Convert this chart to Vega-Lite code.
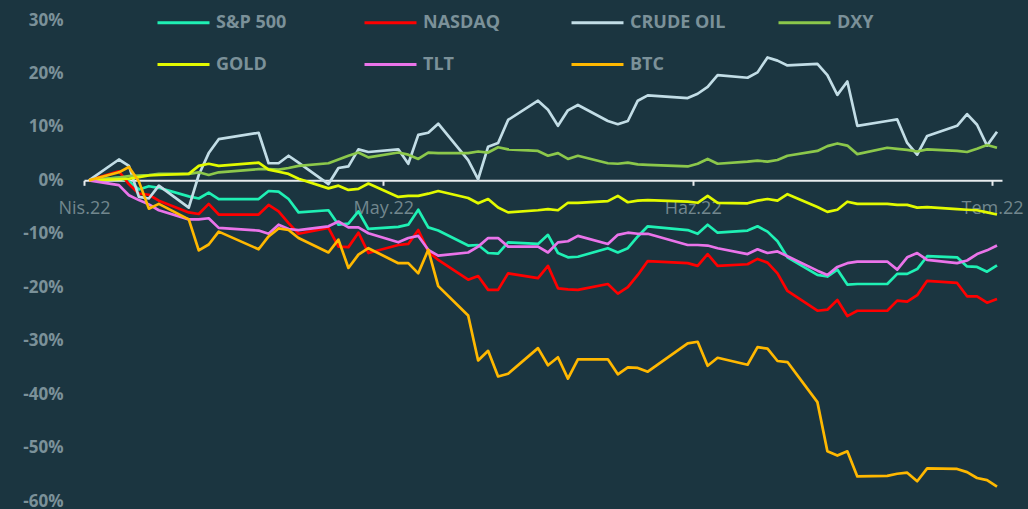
{
  "$schema": "https://vega.github.io/schema/vega-lite/v6.json",
  "width": 918,
  "height": 481,
  "autosize": {"type": "none"},
  "padding": {"left": 84, "top": 20, "right": 26, "bottom": 8},
  "background": "#1b3540",
  "config": {"view": {"stroke": null}, "font": "Open Sans"},
  "data": {"values": [
    {"date":"2022-04-01T12:00:00Z","S&P 500":0,"NASDAQ":0,"CRUDE OIL":0,"DXY":0,"GOLD":0,"TLT":0,"BTC":0},
    {"date":"2022-04-04T12:00:00Z","S&P 500":0.5,"NASDAQ":1.7,"CRUDE OIL":3.9,"DXY":0.5,"GOLD":0.2,"TLT":-0.9,"BTC":1.5},
    {"date":"2022-04-05T12:00:00Z","S&P 500":-0.2,"NASDAQ":-0.7,"CRUDE OIL":2.7,"DXY":0.8,"GOLD":0.3,"TLT":-2.8,"BTC":2.5},
    {"date":"2022-04-06T12:00:00Z","S&P 500":-1.7,"NASDAQ":-2.5,"CRUDE OIL":-3.1,"DXY":0.9,"GOLD":0.6,"TLT":-3.7,"BTC":-0.2},
    {"date":"2022-04-07T12:00:00Z","S&P 500":-1.1,"NASDAQ":-2.7,"CRUDE OIL":-3.4,"DXY":1.0,"GOLD":0.9,"TLT":-4.5,"BTC":-5.3},
    {"date":"2022-04-08T12:00:00Z","S&P 500":-1.4,"NASDAQ":-3.8,"CRUDE OIL":-1.0,"DXY":1.2,"GOLD":1.0,"TLT":-5.6,"BTC":-4.4},
    {"date":"2022-04-11T12:00:00Z","S&P 500":-3.0,"NASDAQ":-6.0,"CRUDE OIL":-5.1,"DXY":1.2,"GOLD":1.2,"TLT":-7.3,"BTC":-7.3},
    {"date":"2022-04-12T12:00:00Z","S&P 500":-3.4,"NASDAQ":-6.3,"CRUDE OIL":1.0,"DXY":1.5,"GOLD":2.7,"TLT":-7.3,"BTC":-13.1},
    {"date":"2022-04-13T12:00:00Z","S&P 500":-2.3,"NASDAQ":-4.4,"CRUDE OIL":5.1,"DXY":1.0,"GOLD":3.1,"TLT":-7.1,"BTC":-12.0},
    {"date":"2022-04-14T12:00:00Z","S&P 500":-3.5,"NASDAQ":-6.4,"CRUDE OIL":7.7,"DXY":1.5,"GOLD":2.7,"TLT":-8.9,"BTC":-9.6},
    {"date":"2022-04-18T12:00:00Z","S&P 500":-3.5,"NASDAQ":-6.4,"CRUDE OIL":8.9,"DXY":2.1,"GOLD":3.3,"TLT":-9.4,"BTC":-12.9},
    {"date":"2022-04-19T12:00:00Z","S&P 500":-2.0,"NASDAQ":-4.6,"CRUDE OIL":3.2,"DXY":2.1,"GOLD":2.0,"TLT":-10.0,"BTC":-10.5},
    {"date":"2022-04-20T12:00:00Z","S&P 500":-2.1,"NASDAQ":-5.8,"CRUDE OIL":3.2,"DXY":2.0,"GOLD":1.6,"TLT":-8.3,"BTC":-9.0},
    {"date":"2022-04-21T12:00:00Z","S&P 500":-3.5,"NASDAQ":-8.0,"CRUDE OIL":4.6,"DXY":2.3,"GOLD":1.2,"TLT":-9.1,"BTC":-9.3},
    {"date":"2022-04-22T12:00:00Z","S&P 500":-6.0,"NASDAQ":-10.0,"CRUDE OIL":3.3,"DXY":2.7,"GOLD":0.3,"TLT":-9.3,"BTC":-10.8},
    {"date":"2022-04-25T12:00:00Z","S&P 500":-5.6,"NASDAQ":-8.9,"CRUDE OIL":-0.7,"DXY":3.2,"GOLD":-1.5,"TLT":-8.6,"BTC":-13.5},
    {"date":"2022-04-26T12:00:00Z","S&P 500":-8.3,"NASDAQ":-12.4,"CRUDE OIL":2.3,"DXY":3.9,"GOLD":-1.0,"TLT":-7.7,"BTC":-11.1},
    {"date":"2022-04-27T12:00:00Z","S&P 500":-8.1,"NASDAQ":-12.5,"CRUDE OIL":2.6,"DXY":4.6,"GOLD":-1.8,"TLT":-8.8,"BTC":-16.4},
    {"date":"2022-04-28T12:00:00Z","S&P 500":-5.8,"NASDAQ":-9.8,"CRUDE OIL":5.8,"DXY":5.2,"GOLD":-1.6,"TLT":-8.8,"BTC":-13.9},
    {"date":"2022-04-29T12:00:00Z","S&P 500":-9.1,"NASDAQ":-13.6,"CRUDE OIL":5.3,"DXY":4.3,"GOLD":-0.6,"TLT":-9.9,"BTC":-12.7},
    {"date":"2022-05-02T12:00:00Z","S&P 500":-8.7,"NASDAQ":-12.1,"CRUDE OIL":5.8,"DXY":5.2,"GOLD":-3.1,"TLT":-11.6,"BTC":-15.5},
    {"date":"2022-05-03T12:00:00Z","S&P 500":-8.3,"NASDAQ":-11.9,"CRUDE OIL":3.1,"DXY":4.8,"GOLD":-2.9,"TLT":-10.8,"BTC":-15.5},
    {"date":"2022-05-04T12:00:00Z","S&P 500":-5.5,"NASDAQ":-9.3,"CRUDE OIL":8.5,"DXY":4.0,"GOLD":-2.9,"TLT":-10.4,"BTC":-17.4},
    {"date":"2022-05-05T12:00:00Z","S&P 500":-8.8,"NASDAQ":-13.3,"CRUDE OIL":8.9,"DXY":5.2,"GOLD":-2.5,"TLT":-13.0,"BTC":-13.0},
    {"date":"2022-05-06T12:00:00Z","S&P 500":-9.4,"NASDAQ":-14.9,"CRUDE OIL":10.6,"DXY":5.1,"GOLD":-2.0,"TLT":-14.1,"BTC":-19.8},
    {"date":"2022-05-09T12:00:00Z","S&P 500":-12.2,"NASDAQ":-18.6,"CRUDE OIL":3.8,"DXY":5.1,"GOLD":-3.3,"TLT":-13.5,"BTC":-25.3},
    {"date":"2022-05-10T12:00:00Z","S&P 500":-12.1,"NASDAQ":-17.9,"CRUDE OIL":0.2,"DXY":5.4,"GOLD":-4.3,"TLT":-12.4,"BTC":-33.7},
    {"date":"2022-05-11T12:00:00Z","S&P 500":-13.6,"NASDAQ":-20.5,"CRUDE OIL":6.3,"DXY":5.2,"GOLD":-3.5,"TLT":-10.8,"BTC":-31.9},
    {"date":"2022-05-12T12:00:00Z","S&P 500":-13.7,"NASDAQ":-20.5,"CRUDE OIL":7.0,"DXY":6.2,"GOLD":-5.1,"TLT":-10.8,"BTC":-36.7},
    {"date":"2022-05-13T12:00:00Z","S&P 500":-11.6,"NASDAQ":-17.4,"CRUDE OIL":11.3,"DXY":5.8,"GOLD":-6.0,"TLT":-12.4,"BTC":-36.2},
    {"date":"2022-05-16T12:00:00Z","S&P 500":-11.9,"NASDAQ":-18.3,"CRUDE OIL":14.9,"DXY":5.5,"GOLD":-5.6,"TLT":-12.4,"BTC":-31.4},
    {"date":"2022-05-17T12:00:00Z","S&P 500":-10.2,"NASDAQ":-16.0,"CRUDE OIL":13.2,"DXY":4.6,"GOLD":-5.4,"TLT":-13.5,"BTC":-34.6},
    {"date":"2022-05-18T12:00:00Z","S&P 500":-13.6,"NASDAQ":-20.2,"CRUDE OIL":10.2,"DXY":5.1,"GOLD":-5.6,"TLT":-11.6,"BTC":-33.1},
    {"date":"2022-05-19T12:00:00Z","S&P 500":-14.4,"NASDAQ":-20.4,"CRUDE OIL":13.1,"DXY":4.0,"GOLD":-4.2,"TLT":-11.4,"BTC":-37.1},
    {"date":"2022-05-20T12:00:00Z","S&P 500":-14.3,"NASDAQ":-20.5,"CRUDE OIL":14.1,"DXY":4.6,"GOLD":-4.2,"TLT":-10.4,"BTC":-33.5},
    {"date":"2022-05-23T12:00:00Z","S&P 500":-12.7,"NASDAQ":-19.4,"CRUDE OIL":11.1,"DXY":3.2,"GOLD":-3.9,"TLT":-11.9,"BTC":-33.5},
    {"date":"2022-05-24T12:00:00Z","S&P 500":-13.5,"NASDAQ":-21.2,"CRUDE OIL":10.5,"DXY":3.1,"GOLD":-2.9,"TLT":-10.2,"BTC":-36.3},
    {"date":"2022-05-25T12:00:00Z","S&P 500":-12.7,"NASDAQ":-20.0,"CRUDE OIL":11.1,"DXY":3.3,"GOLD":-4.1,"TLT":-9.8,"BTC":-35.0},
    {"date":"2022-05-26T12:00:00Z","S&P 500":-10.5,"NASDAQ":-17.7,"CRUDE OIL":14.9,"DXY":3.0,"GOLD":-3.8,"TLT":-10.0,"BTC":-35.1},
    {"date":"2022-05-27T12:00:00Z","S&P 500":-8.6,"NASDAQ":-15.1,"CRUDE OIL":15.9,"DXY":2.9,"GOLD":-3.7,"TLT":-10.0,"BTC":-35.8},
    {"date":"2022-05-31T12:00:00Z","S&P 500":-9.3,"NASDAQ":-15.5,"CRUDE OIL":15.4,"DXY":2.6,"GOLD":-4.0,"TLT":-12.1,"BTC":-30.5},
    {"date":"2022-06-01T12:00:00Z","S&P 500":-10.0,"NASDAQ":-16.0,"CRUDE OIL":16.2,"DXY":3.1,"GOLD":-4.2,"TLT":-12.1,"BTC":-30.2},
    {"date":"2022-06-02T12:00:00Z","S&P 500":-8.3,"NASDAQ":-13.8,"CRUDE OIL":17.5,"DXY":4.0,"GOLD":-2.9,"TLT":-12.2,"BTC":-34.7},
    {"date":"2022-06-03T12:00:00Z","S&P 500":-9.8,"NASDAQ":-16.0,"CRUDE OIL":19.7,"DXY":3.1,"GOLD":-4.2,"TLT":-12.7,"BTC":-33.2},
    {"date":"2022-06-06T12:00:00Z","S&P 500":-9.4,"NASDAQ":-15.7,"CRUDE OIL":19.2,"DXY":3.5,"GOLD":-4.3,"TLT":-13.8,"BTC":-34.5},
    {"date":"2022-06-07T12:00:00Z","S&P 500":-8.6,"NASDAQ":-14.7,"CRUDE OIL":20.2,"DXY":3.7,"GOLD":-3.8,"TLT":-12.9,"BTC":-31.2},
    {"date":"2022-06-08T12:00:00Z","S&P 500":-9.6,"NASDAQ":-15.4,"CRUDE OIL":23.0,"DXY":3.5,"GOLD":-3.5,"TLT":-13.6,"BTC":-31.5},
    {"date":"2022-06-09T12:00:00Z","S&P 500":-11.4,"NASDAQ":-17.4,"CRUDE OIL":22.4,"DXY":3.8,"GOLD":-3.8,"TLT":-13.3,"BTC":-33.8},
    {"date":"2022-06-10T12:00:00Z","S&P 500":-14.4,"NASDAQ":-20.7,"CRUDE OIL":21.5,"DXY":4.6,"GOLD":-2.6,"TLT":-14.2,"BTC":-34.0},
    {"date":"2022-06-13T12:00:00Z","S&P 500":-17.7,"NASDAQ":-24.4,"CRUDE OIL":21.8,"DXY":5.5,"GOLD":-5.0,"TLT":-16.9,"BTC":-41.5},
    {"date":"2022-06-14T12:00:00Z","S&P 500":-18.0,"NASDAQ":-24.2,"CRUDE OIL":19.7,"DXY":6.4,"GOLD":-5.9,"TLT":-17.7,"BTC":-50.7},
    {"date":"2022-06-15T12:00:00Z","S&P 500":-16.7,"NASDAQ":-22.4,"CRUDE OIL":16.0,"DXY":6.9,"GOLD":-5.5,"TLT":-16.2,"BTC":-51.5},
    {"date":"2022-06-16T12:00:00Z","S&P 500":-19.5,"NASDAQ":-25.4,"CRUDE OIL":18.5,"DXY":6.5,"GOLD":-4.0,"TLT":-15.5,"BTC":-50.7},
    {"date":"2022-06-17T12:00:00Z","S&P 500":-19.4,"NASDAQ":-24.4,"CRUDE OIL":10.2,"DXY":4.9,"GOLD":-4.4,"TLT":-15.2,"BTC":-55.4},
    {"date":"2022-06-20T12:00:00Z","S&P 500":-19.4,"NASDAQ":-24.4,"CRUDE OIL":11.1,"DXY":6.1,"GOLD":-4.4,"TLT":-15.2,"BTC":-55.3},
    {"date":"2022-06-21T12:00:00Z","S&P 500":-17.5,"NASDAQ":-22.5,"CRUDE OIL":11.4,"DXY":5.9,"GOLD":-4.6,"TLT":-16.7,"BTC":-54.9},
    {"date":"2022-06-22T12:00:00Z","S&P 500":-17.5,"NASDAQ":-22.7,"CRUDE OIL":7.0,"DXY":5.7,"GOLD":-4.6,"TLT":-14.4,"BTC":-54.7},
    {"date":"2022-06-23T12:00:00Z","S&P 500":-16.6,"NASDAQ":-21.5,"CRUDE OIL":4.8,"DXY":5.4,"GOLD":-5.1,"TLT":-13.6,"BTC":-56.3},
    {"date":"2022-06-24T12:00:00Z","S&P 500":-14.2,"NASDAQ":-18.8,"CRUDE OIL":8.3,"DXY":5.8,"GOLD":-5.0,"TLT":-14.9,"BTC":-53.9},
    {"date":"2022-06-27T12:00:00Z","S&P 500":-14.4,"NASDAQ":-19.2,"CRUDE OIL":10.2,"DXY":5.5,"GOLD":-5.4,"TLT":-15.5,"BTC":-54.0},
    {"date":"2022-06-28T12:00:00Z","S&P 500":-16.1,"NASDAQ":-21.7,"CRUDE OIL":12.4,"DXY":5.3,"GOLD":-5.5,"TLT":-15.0,"BTC":-54.6},
    {"date":"2022-06-29T12:00:00Z","S&P 500":-16.2,"NASDAQ":-21.7,"CRUDE OIL":10.4,"DXY":5.9,"GOLD":-5.6,"TLT":-13.8,"BTC":-55.7},
    {"date":"2022-06-30T12:00:00Z","S&P 500":-17.1,"NASDAQ":-22.9,"CRUDE OIL":6.5,"DXY":6.6,"GOLD":-6.0,"TLT":-13.1,"BTC":-56.1},
    {"date":"2022-07-01T12:00:00Z","S&P 500":-15.9,"NASDAQ":-22.2,"CRUDE OIL":9.1,"DXY":6.1,"GOLD":-6.4,"TLT":-12.2,"BTC":-57.3}
  ]},
  "transform": [
    {"fold": ["S&P 500", "NASDAQ", "CRUDE OIL", "DXY", "GOLD", "TLT", "BTC"], "as": ["series", "value"]}
  ],
  "mark": {"type": "line", "strokeWidth": 2.7, "strokeJoin": "round"},
  "encoding": {
    "x": {
      "field": "date",
      "type": "temporal",
      "scale": {"type": "utc", "domain": [{"year": 2022, "month": 4, "date": 1, "utc": true}, {"year": 2022, "month": 7, "date": 2, "utc": true}]},
      "axis": {
        "title": null,
        "orient": "bottom",
        "offset": -320.7,
        "values": [
          {"year": 2022, "month": 4, "date": 1, "utc": true},
          {"year": 2022, "month": 5, "date": 1, "utc": true},
          {"year": 2022, "month": 6, "date": 1, "utc": true},
          {"year": 2022, "month": 7, "date": 1, "utc": true}
        ],
        "labelExpr": "['Oca','Şub','Mar','Nis','May','Haz','Tem','Ağu','Eyl','Eki','Kas','Ara'][utcmonth(datum.value)] + '.22'",
        "grid": false,
        "domainColor": "#e8ecee",
        "domainWidth": 2,
        "tickColor": "#e8ecee",
        "tickWidth": 2,
        "tickSize": 5,
        "labelColor": "#72878e",
        "labelFontSize": 18,
        "labelFont": "Open Sans",
        "labelPadding": 14,
        "labelDx": 4,
        "labelFlush": false,
        "labelOverlap": false
      }
    },
    "y": {
      "field": "value",
      "type": "quantitative",
      "scale": {"domain": [-60, 30], "nice": false, "zero": false},
      "axis": {
        "title": null,
        "values": [-60, -50, -40, -30, -20, -10, 0, 10, 20, 30],
        "labelExpr": "datum.value + '%'",
        "grid": false,
        "domain": false,
        "ticks": false,
        "tickSize": 0,
        "labelPadding": 21,
        "labelColor": "#7b9199",
        "labelFontSize": 17,
        "labelFontWeight": "bold",
        "labelFont": "Open Sans",
        "labelFlush": false,
        "labelOverlap": false
      }
    },
    "color": {
      "field": "series",
      "type": "nominal",
      "sort": ["S&P 500", "NASDAQ", "CRUDE OIL", "DXY", "GOLD", "TLT", "BTC"],
      "scale": {
        "domain": ["S&P 500", "NASDAQ", "CRUDE OIL", "DXY", "GOLD", "TLT", "BTC"],
        "range": ["#1ff0b4", "#ff0000", "#c2dde6", "#8cc84b", "#e2fa00", "#ea74ea", "#ffb800"]
      },
      "legend": {
        "title": null,
        "orient": "none",
        "legendX": 72,
        "legendY": -25,
        "direction": "horizontal",
        "columns": 4,
        "gridAlign": "all",
        "padding": 0,
        "symbolType": "stroke",
        "symbolSize": 2704,
        "symbolStrokeWidth": 3,
        "labelFont": "Open Sans",
        "labelFontSize": 18,
        "labelFontWeight": "bold",
        "labelColor": "#7b9199",
        "labelOffset": 5,
        "labelLimit": 200,
        "columnPadding": 46,
        "rowPadding": 5
      }
    }
  }
}
